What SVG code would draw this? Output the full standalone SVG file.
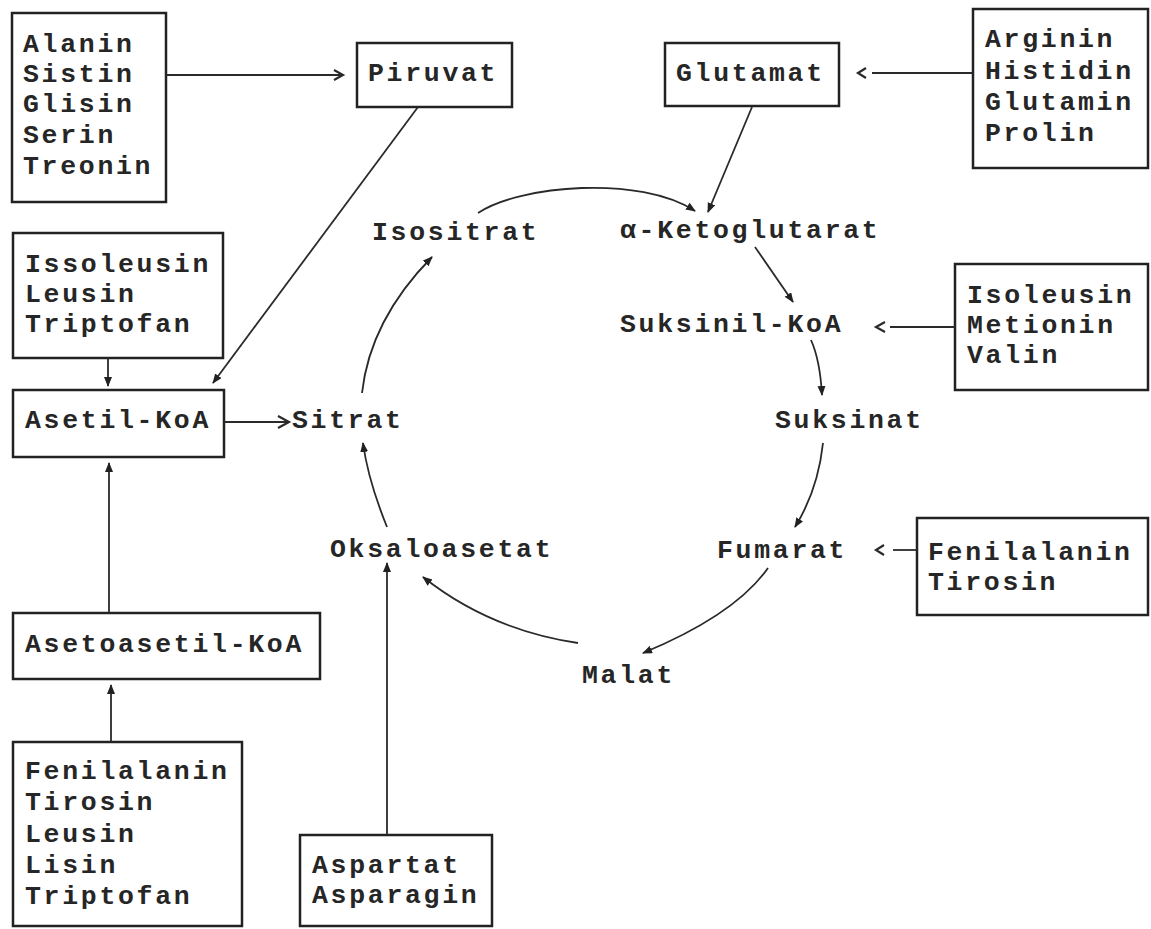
<svg xmlns="http://www.w3.org/2000/svg" width="1151" height="929" viewBox="0 0 1151 929">
<style>
.box{fill:none;stroke:#222;stroke-width:2.5}
.t{font-family:"Liberation Mono","DejaVu Sans Mono",monospace;font-weight:bold;font-size:26.5px;letter-spacing:2.7px;fill:#262626}
.c{fill:none;stroke:#2a2a2a;stroke-width:1.8}
.ch{fill:none;stroke:#2a2a2a;stroke-width:2.2}
</style>
<defs>
<marker id="ah" markerUnits="userSpaceOnUse" markerWidth="12" markerHeight="10" refX="9" refY="4" orient="auto">
<path d="M0,0 L10,4 L0,8 Z" fill="#222"/>
</marker>
</defs>
<rect width="1151" height="929" fill="#fff"/>

<g id="alanin">
<rect class="box" x="12" y="13" width="154" height="189"/>
<text class="t" x="23" y="52">Alanin</text>
<text class="t" x="23" y="82">Sistin</text>
<text class="t" x="23" y="112">Glisin</text>
<text class="t" x="23" y="143">Serin</text>
<text class="t" x="23" y="174">Treonin</text>
</g>
<g id="piruvat">
<rect class="box" x="357" y="43" width="155" height="64"/>
<text class="t" x="368" y="81">Piruvat</text>
</g>
<g id="glutamat">
<rect class="box" x="665" y="43" width="174" height="63"/>
<text class="t" x="676" y="81">Glutamat</text>
</g>
<g id="arginin">
<rect class="box" x="973" y="9" width="175" height="159"/>
<text class="t" x="985" y="47">Arginin</text>
<text class="t" x="985" y="79">Histidin</text>
<text class="t" x="985" y="110">Glutamin</text>
<text class="t" x="985" y="141">Prolin</text>
</g>
<g id="issoleusin">
<rect class="box" x="13" y="233" width="210" height="125"/>
<text class="t" x="25" y="272">Issoleusin</text>
<text class="t" x="25" y="302">Leusin</text>
<text class="t" x="25" y="332">Triptofan</text>
</g>
<g id="asetilkoa">
<rect class="box" x="13" y="390" width="211" height="67"/>
<text class="t" x="25" y="428">Asetil-KoA</text>
</g>
<g id="asetoasetilkoa">
<rect class="box" x="13" y="613" width="307" height="66"/>
<text class="t" x="25" y="652">Asetoasetil-KoA</text>
</g>
<g id="fenilalanin-left">
<rect class="box" x="13" y="742" width="229" height="184"/>
<text class="t" x="25" y="779">Fenilalanin</text>
<text class="t" x="25" y="810">Tirosin</text>
<text class="t" x="25" y="842">Leusin</text>
<text class="t" x="25" y="873">Lisin</text>
<text class="t" x="25" y="904">Triptofan</text>
</g>
<g id="aspartat">
<rect class="box" x="300" y="835" width="192" height="91"/>
<text class="t" x="312" y="873">Aspartat</text>
<text class="t" x="312" y="903">Asparagin</text>
</g>
<g id="isoleusin">
<rect class="box" x="955" y="264" width="193" height="126"/>
<text class="t" x="967" y="303">Isoleusin</text>
<text class="t" x="967" y="333">Metionin</text>
<text class="t" x="967" y="363">Valin</text>
</g>
<g id="fenilalanin-right">
<rect class="box" x="917" y="518" width="231" height="97"/>
<text class="t" x="928" y="560">Fenilalanin</text>
<text class="t" x="928" y="590">Tirosin</text>
</g>

<g id="sitrat"><text class="t" x="292" y="428">Sitrat</text></g>
<g id="isositrat"><text class="t" x="372" y="240">Isositrat</text></g>
<g id="ketoglutarat"><text class="t" x="620" y="238">α-Ketoglutarat</text></g>
<g id="suksinilkoa"><text class="t" x="620" y="332">Suksinil-KoA</text></g>
<g id="suksinat"><text class="t" x="775" y="428">Suksinat</text></g>
<g id="fumarat"><text class="t" x="717" y="558">Fumarat</text></g>
<g id="malat"><text class="t" x="582" y="683">Malat</text></g>
<g id="oksaloasetat"><text class="t" x="330" y="557">Oksaloasetat</text></g>

<g id="connectors">
<line class="c" x1="166" y1="75" x2="341" y2="75"/>
<polyline class="ch" points="334,70 343,75 334,80"/>
<line class="c" x1="418" y1="107" x2="213" y2="383" marker-end="url(#ah)"/>
<line class="c" x1="108" y1="358" x2="108" y2="386" marker-end="url(#ah)"/>
<line class="c" x1="224" y1="422" x2="287" y2="422"/>
<polyline class="ch" points="278,416 289,422 278,428"/>
<line class="c" x1="109" y1="613" x2="109" y2="463" marker-end="url(#ah)"/>
<line class="c" x1="111" y1="742" x2="111" y2="685" marker-end="url(#ah)"/>
<line class="c" x1="387" y1="835" x2="387" y2="563" marker-end="url(#ah)"/>
<path class="c" d="M387,527 Q368,480 363,443" marker-end="url(#ah)"/>
<path class="c" d="M362,393 Q370,320 432,257" marker-end="url(#ah)"/>
<path class="c" d="M478,213 C520,185 640,175 695,211" marker-end="url(#ah)"/>
<line class="c" x1="752" y1="107" x2="708" y2="212" marker-end="url(#ah)"/>
<line class="c" x1="755" y1="247" x2="793" y2="302" stroke-width="3" marker-end="url(#ah)"/>
<line class="c" x1="955" y1="327" x2="890" y2="327"/>
<polyline class="ch" points="885,322 876,327 885,332"/>
<path class="c" d="M811,340 Q820,360 822,395" marker-end="url(#ah)"/>
<path class="c" d="M823,443 Q818,490 795,527" marker-end="url(#ah)"/>
<line class="c" x1="917" y1="550" x2="893" y2="550"/>
<polyline class="ch" points="884,545 876,550 884,555"/>
<line class="c" x1="973" y1="73" x2="872" y2="73"/>
<polyline class="ch" points="866,68 858,73 866,78"/>
<path class="c" d="M768,568 Q735,615 643,653" marker-end="url(#ah)"/>
<path class="c" d="M578,643 Q490,630 423,577" marker-end="url(#ah)"/>
</g>
</svg>
